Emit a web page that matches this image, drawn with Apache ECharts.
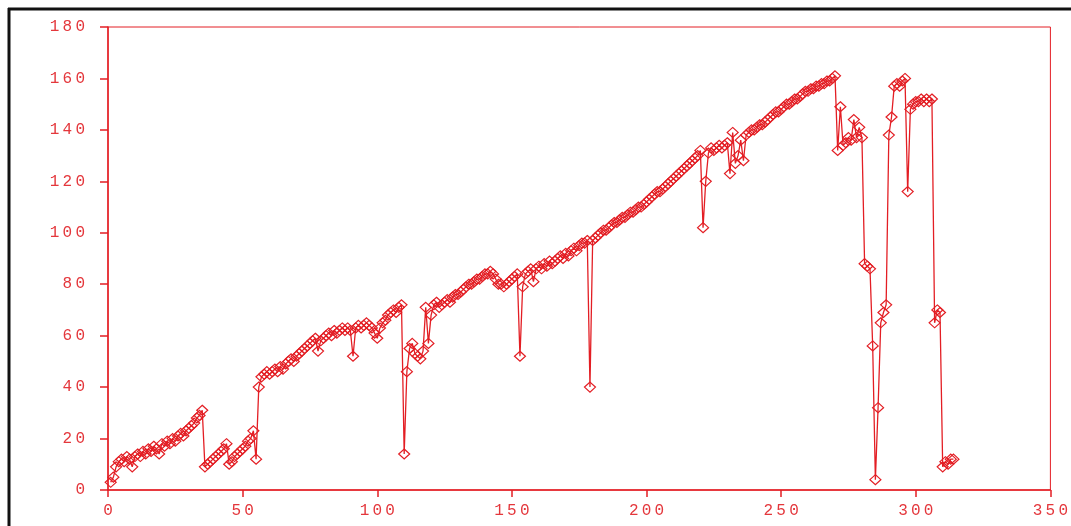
<!DOCTYPE html>
<html>
<head>
<meta charset="utf-8">
<script src="https://cdn.jsdelivr.net/npm/echarts@6/dist/echarts.min.js"></script>
<style>
  html, body { margin: 0; padding: 0; background: #fff; }
  #chart { width: 1071px; height: 526px; }
</style>
</head>
<body>
<div id="chart"></div>
<script>
// sample values, one per sample starting at sample 1
const firstSample = 1
const values = [
  3, 5, 9, 11, 12, 11, 13, 12, 9, 13,
  14, 13, 15, 14, 16, 15, 17, 16, 14, 18,
  17, 19, 18, 20, 19, 21, 22, 21, 23, 24,
  25, 26, 28, 29, 31, 9, 10, 11, 12, 13,
  14, 15, 16, 18, 10, 11, 13, 14, 15, 16,
  17, 19, 20, 23, 12, 40, 44, 45, 46, 45,
  46, 47, 46, 48, 47, 49, 50, 51, 50, 52,
  53, 54, 55, 56, 57, 58, 59, 54, 58, 59,
  60, 61, 60, 62, 61, 62, 63, 62, 63, 62,
  52, 63, 64, 63, 64, 65, 64, 63, 61, 59,
  63, 65, 66, 68, 69, 70, 69, 71, 72, 14,
  46, 55, 57, 53, 52, 51, 54, 71, 57, 68,
  72, 73, 71, 72, 73, 74, 73, 75, 76, 76,
  77, 78, 79, 80, 80, 81, 82, 82, 83, 84,
  84, 85, 84, 82, 80, 80, 79, 80, 81, 82,
  83, 84, 52, 79, 84, 85, 86, 81, 86, 87,
  86, 88, 87, 89, 88, 89, 90, 91, 90, 92,
  91, 93, 94, 93, 95, 96, 96, 97, 40, 97,
  98, 99, 100, 101, 101, 102, 103, 104, 104, 105,
  106, 106, 107, 108, 108, 109, 110, 110, 111, 112,
  113, 114, 115, 116, 116, 117, 118, 119, 120, 121,
  122, 123, 124, 125, 126, 127, 128, 129, 130, 132,
  102, 120, 131, 133, 132, 133, 134, 133, 134, 135,
  123, 139, 127, 130, 136, 128, 138, 139, 140, 140,
  141, 142, 142, 143, 144, 145, 146, 147, 147, 148,
  149, 150, 150, 151, 152, 152, 153, 154, 155, 155,
  156, 156, 157, 157, 158, 158, 159, 159, 160, 161,
  132, 149, 134, 135, 137, 136, 144, 137, 141, 137,
  88, 87, 86, 56, 4, 32, 65, 69, 72, 138,
  145, 157, 158, 157, 159, 160, 116, 148, 150, 151,
  151, 152, 151, 152, 151, 152, 65, 70, 69, 9,
  11, 10, 12, 12
]
const xTicks = { min: 0, max: 350, step: 50 }
const yTicks = { min: 0, max: 180, step: 20 }

const red = '#e31e24'
const labelRed = '#e4373c'
const points = values.map((v, i) => [firstSample + i, v])

// spread the digits a little, like the plotter font
const spaced = v => String(v).split('').join('\u2009')

const chart = echarts.init(document.getElementById('chart'))
chart.setOption({
  animation: false,
  backgroundColor: '#fff',
  grid: {
    left: 108,
    right: 16,
    top: 27,
    bottom: 36,
    show: true,
    borderColor: red,
    borderWidth: 1
  },
  xAxis: {
    type: 'value',
    min: xTicks.min,
    max: xTicks.max,
    interval: xTicks.step,
    axisLine: { show: true, lineStyle: { color: red, width: 1.5 } },
    axisTick: { show: true, length: 7, lineStyle: { color: red, width: 1.5 } },
    axisLabel: {
      color: labelRed,
      fontFamily: 'Liberation Mono',
      fontSize: 16,
      margin: 13,
      formatter: spaced
    },
    splitLine: { show: false }
  },
  yAxis: {
    type: 'value',
    min: yTicks.min,
    max: yTicks.max,
    interval: yTicks.step,
    axisLine: { show: true, lineStyle: { color: red, width: 1.5 } },
    axisTick: { show: true, length: 8, lineStyle: { color: red, width: 1.5 } },
    axisLabel: {
      color: labelRed,
      fontFamily: 'Liberation Mono',
      fontSize: 16,
      margin: 23,
      formatter: spaced
    },
    splitLine: { show: false }
  },
  graphic: [
    { type: 'line', shape: { x1: 8, y1: 9, x2: 1071, y2: 9 }, style: { stroke: '#111', lineWidth: 3 } },
    { type: 'line', shape: { x1: 9, y1: 8, x2: 9, y2: 526 }, style: { stroke: '#111', lineWidth: 3 } }
  ],
  series: [
    {
      type: 'line',
      data: points,
      symbol: 'diamond',
      symbolSize: [11, 10],
      showAllSymbol: true,
      lineStyle: { color: red, width: 1.3 },
      itemStyle: { color: 'rgba(255,255,255,0)', borderColor: red, borderWidth: 1.2 }
    }
  ]
})
</script>
</body>
</html>
